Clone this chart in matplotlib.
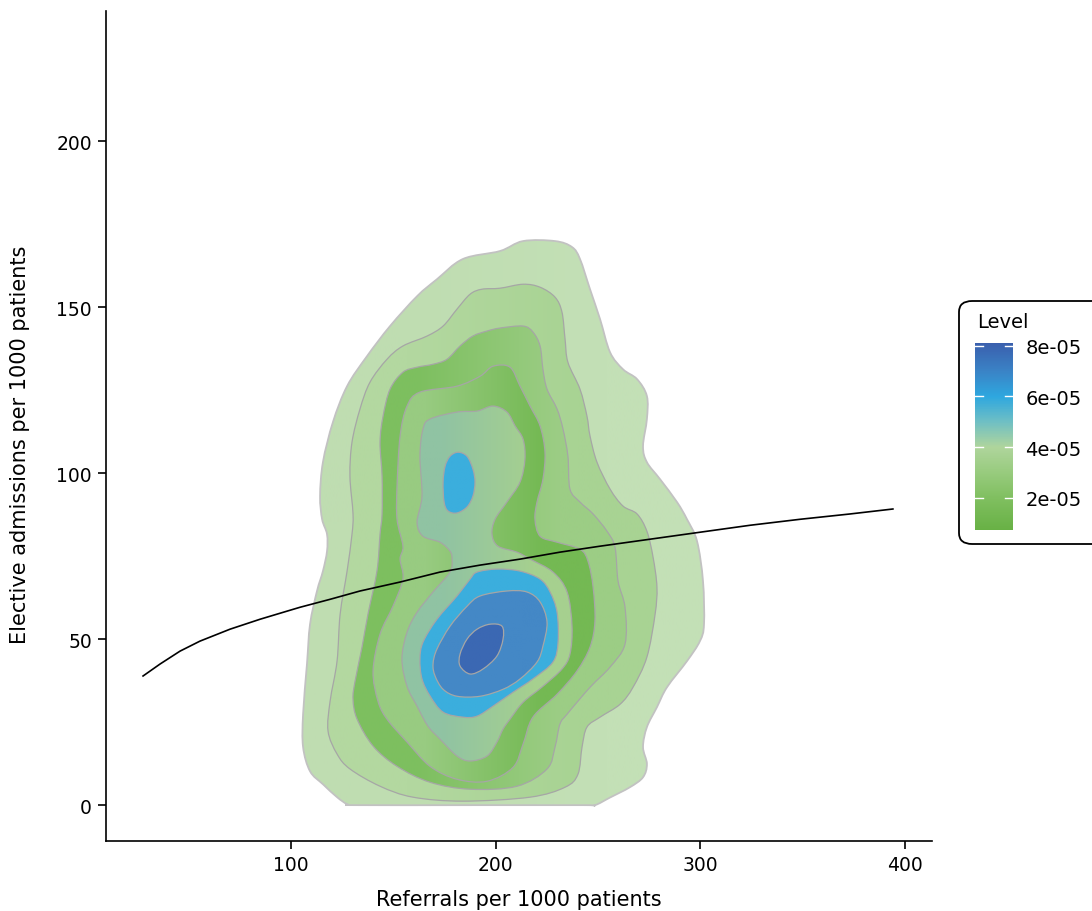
import numpy as np
import matplotlib
matplotlib.use('Agg')
import matplotlib.pyplot as plt
from matplotlib.patches import PathPatch, FancyBboxPatch
from matplotlib.path import Path
from matplotlib.colors import LinearSegmentedColormap, Normalize, to_rgb
from matplotlib.cm import ScalarMappable

# density levels (one outline per level, 6 has two pieces)
levels = [1e-05, 2e-05, 3e-05, 4e-05, 5e-05, 6e-05, 7e-05, 8e-05]

contour_1 = [(213.4, 169.9), (229.0, 169.9), (237.3, 168.1), (241.2, 164.5), (246.1, 155.4),
             (251.0, 146.4), (255.9, 136.4), (262.2, 131.3), (269.1, 128.3), (273.9, 123.2),
             (273.9, 116.3), (272.0, 108.1), (273.9, 103.3), (280.3, 98.2), (288.6, 91.3),
             (293.5, 86.1), (298.4, 79.5), (301.3, 67.5), (301.8, 54.5), (299.8, 49.4),
             (293.5, 43.4), (283.7, 35.5), (278.8, 29.5), (273.9, 23.5), (272.0, 17.5),
             (273.9, 12.4), (272.0, 8.4), (265.6, 5.4), (255.9, 2.3), (248.5, 0.0),
             (243.0, 0.0), (190.0, 0.0), (132.0, 0.0), (127.5, 0.3), (122.5, 2.4),
             (115.6, 6.3), (109.3, 10.2), (105.9, 17.5),
             (105.9, 27.4), (107.8, 42.5), (109.3, 54.5), (112.7, 64.5), (115.6, 70.5),
             (117.6, 76.5), (117.6, 81.6), (115.2, 86.1), (114.2, 93.1), (115.6, 103.3),
             (120.5, 115.4), (127.4, 126.2), (137.1, 135.2), (148.4, 144.3), (161.6, 153.3),
             (171.3, 158.4), (184.0, 164.5), (202.1, 166.9)]

contour_2 = [(202.1, 155.7), (213.4, 156.9), (221.7, 156.0), (229.0, 153.0), (232.4, 148.5),
             (233.9, 140.4), (235.3, 133.4), (241.2, 125.3), (244.6, 117.2), (246.1, 111.2),
             (249.5, 103.3), (255.9, 95.2), (262.2, 90.1), (269.1, 87.7), (273.9, 82.5),
             (276.9, 74.7), (278.8, 65.7), (277.9, 57.5), (273.9, 44.6), (267.1, 35.5),
             (260.8, 30.4), (251.0, 26.5), (244.6, 23.5), (242.2, 17.5), (240.2, 9.3),
             (233.9, 5.4), (216.8, 2.4), (184.0, 1.2), (159.6, 2.4), (143.5, 5.7),
             (128.8, 10.9), (122.5, 15.4), (118.1, 22.3), (119.1, 31.3), (122.5, 43.4),
             (124.0, 57.5), (127.4, 70.5), (129.8, 81.6), (130.3, 87.7), (128.8, 99.1),
             (129.8, 109.3), (133.7, 119.3), (138.6, 127.4), (146.9, 134.3), (154.7, 138.3),
             (166.5, 141.3), (174.3, 144.3), (181.1, 149.4), (187.5, 153.9), (193.3, 155.4)]

contour_3 = [(202.1, 143.7), (213.4, 144.3), (218.2, 142.5), (221.7, 138.3), (223.1, 131.3),
             (225.1, 125.3), (230.0, 119.3), (232.9, 113.3), (235.3, 105.1), (236.3, 95.2),
             (241.2, 91.3), (247.6, 87.7), (254.4, 82.5), (258.3, 77.7), (259.8, 67.5),
             (263.2, 59.6), (263.2, 48.5), (255.9, 41.6), (246.1, 35.5), (234.9, 27.4),
             (231.4, 24.4), (229.0, 17.5), (225.1, 10.9), (210.4, 5.7), (187.5, 4.8),
             (167.9, 6.9), (151.8, 11.7), (140.1, 17.8), (132.3, 25.9), (130.3, 31.9),
             (131.3, 37.3), (134.7, 47.6), (137.6, 57.5), (142.0, 70.5), (143.5, 81.6),
             (144.5, 87.7), (144.5, 99.1), (143.5, 109.3), (145.0, 117.2), (148.4, 125.3),
             (154.7, 130.4), (161.6, 131.9), (169.4, 132.8), (176.2, 134.3), (182.6, 138.3),
             (188.9, 141.3), (195.8, 142.8)]

contour_4 = [(198.7, 132.2), (207.0, 131.9), (211.9, 126.2), (216.8, 120.2), (221.7, 114.2),
             (224.1, 106.3), (223.1, 98.2), (220.2, 91.3), (219.2, 86.1), (221.7, 81.0),
             (230.0, 79.2), (241.2, 77.1), (245.1, 73.5), (247.6, 65.7), (248.5, 55.4),
             (246.1, 47.6), (239.7, 40.4), (230.0, 33.4), (218.2, 26.5), (213.4, 18.4),
             (208.5, 11.4), (195.8, 7.2), (181.1, 7.8), (167.9, 11.7), (156.7, 19.0),
             (146.9, 25.9), (142.5, 31.3), (140.1, 40.4), (143.5, 51.5), (149.8, 59.9),
             (154.7, 68.1), (153.3, 74.1), (154.7, 78.0), (151.8, 86.1), (151.8, 96.1),
             (153.3, 111.2), (156.7, 120.2), (163.0, 124.4), (181.1, 126.2), (192.4, 129.2)]

contour_5 = [(164.5, 113.3), (168.0, 116.3), (181.1, 118.4), (190.9, 118.7), (198.7, 120.2),
             (205.5, 118.4), (209.5, 114.2), (213.4, 110.2), (214.3, 104.2), (211.9, 97.3),
             (205.5, 91.3), (199.7, 86.1), (198.2, 81.6), (201.1, 78.0), (210.4, 76.2),
             (216.8, 74.1), (228.0, 70.2), (234.9, 64.2), (237.3, 53.9), (236.3, 45.5),
             (232.4, 41.0), (223.1, 35.8), (213.4, 31.0), (207.0, 25.9), (203.6, 22.9),
             (200.6, 19.0), (195.8, 14.8), (187.5, 13.3), (181.1, 14.8), (172.8, 19.9),
             (166.9, 23.8), (161.6, 29.8), (156.7, 35.8), (154.2, 44.0), (156.7, 52.1),
             (161.6, 58.1), (169.4, 64.2), (177.7, 70.2), (178.7, 74.1), (177.7, 76.5),
             (172.8, 79.2), (164.5, 81.0), (161.6, 85.2), (164.0, 93.1), (163.0, 105.1)]

contour_6a = [(181.6, 106.3), (186.0, 105.1), (188.9, 101.2), (189.9, 97.3), (188.9, 93.1),
              (186.0, 89.8), (181.1, 88.0), (176.7, 88.6), (174.8, 91.3), (174.3, 97.3),
              (175.3, 102.1), (177.7, 105.1)]

contour_6b = [(190.9, 70.2), (200.6, 71.1), (211.9, 70.5), (221.7, 68.1), (226.6, 64.2),
              (230.0, 58.1), (230.5, 49.1), (228.0, 43.1), (218.2, 38.0), (208.5, 34.0),
              (198.7, 29.8), (190.9, 26.8), (184.0, 26.5), (174.3, 28.0), (168.0, 32.8),
              (164.0, 38.0), (163.0, 44.0), (164.5, 49.1), (171.3, 56.0), (181.1, 63.0),
              (187.5, 68.1)]

contour_7 = [(192.4, 63.0), (205.5, 64.5), (215.3, 64.2), (221.7, 61.2), (225.1, 55.1),
             (223.1, 47.9), (220.2, 43.1), (211.9, 38.0), (203.6, 34.9), (192.4, 32.8),
             (181.1, 32.8), (174.3, 34.9), (170.4, 38.9), (169.4, 42.5), (171.3, 47.0),
             (177.7, 53.9), (186.0, 59.9)]

contour_8 = [(190.9, 53.0), (197.2, 54.5), (203.1, 53.9), (203.6, 50.0), (200.6, 44.9),
             (193.8, 41.0), (187.5, 39.5), (182.6, 41.9), (182.6, 45.5), (186.0, 50.0)]

# smoothed trend of admissions on referrals
fit_x = [27.7, 36.0, 45.8, 55.5, 70.2, 84.9, 99.5, 104.4, 119.1, 133.7, 153.3, 172.8,
         192.4, 211.9, 231.4, 251.0, 275.4, 299.8, 324.3, 348.7, 373.1, 394.1]
fit_y = [38.9, 42.5, 46.4, 49.4, 53.0, 56.0, 58.7, 59.6, 62.0, 64.5, 67.2, 70.2,
         72.3, 74.1, 76.2, 78.0, 80.1, 82.2, 84.3, 86.1, 87.7, 89.2]

x_ticks = [100, 200, 300, 400]
y_ticks = [0, 50, 100, 150, 200]
level_ticks = [2e-05, 4e-05, 6e-05, 8e-05]
level_labels = ['2e-05', '4e-05', '6e-05', '8e-05']

outlines = [(0, contour_1), (1, contour_2), (2, contour_3), (3, contour_4), (4, contour_5),
            (5, contour_6a), (5, contour_6b), (6, contour_7), (7, contour_8)]

# fill colour at left / right side of each level region
fill_cols = [('#bfddb1', '#c3e0b6'),
             ('#b3d8a0', '#a8d393'),
             ('#7dbf5f', '#9ccd85'),
             ('#98cb81', '#74b953'),
             ('#90c3a3', '#a6d08f'),
             ('#3baedd', '#3baedd'),
             ('#4488c6', '#4488c6'),
             ('#3b68b3', '#3b68b3')]


def smooth_path(poly):
    # closed curve through the outline points (Catmull-Rom as cubic Bezier)
    p = np.array(poly)
    n = len(p)
    verts = [p[0]]
    codes = [Path.MOVETO]
    for i in range(n):
        p0, p1, p2, p3 = p[i - 1], p[i], p[(i + 1) % n], p[(i + 2) % n]
        verts += [p1 + (p2 - p0) / 6, p2 - (p3 - p1) / 6, p2]
        codes += [Path.CURVE4] * 3
    verts.append(p[0])
    codes.append(Path.CLOSEPOLY)
    return Path(np.array(verts), codes)


plt.rcParams['font.family'] = ['DejaVu Sans']
fig = plt.figure(figsize=(10.92, 9.12), dpi=100)
ax = fig.add_axes([106 / 1092, 1 - 842 / 912, 826 / 1092, 830 / 912])

for i, (lev, poly) in enumerate(outlines):
    pts = np.array(poly)
    clip = PathPatch(smooth_path(poly), facecolor='none', edgecolor='none')
    ax.add_patch(clip)
    cl, cr = fill_cols[lev]
    grad = np.array([[to_rgb(cl), to_rgb(cr)]])
    im = ax.imshow(grad, extent=[pts[:, 0].min() - 3, pts[:, 0].max() + 3,
                                 pts[:, 1].min() - 3, pts[:, 1].max() + 3],
                   aspect='auto', interpolation='bilinear', origin='lower', zorder=2 + i)
    im.set_clip_path(clip)

for lev, poly in outlines:
    if lev == 0:
        ax.add_patch(PathPatch(smooth_path(poly), fill=False, edgecolor='#c2c2c2', lw=1.3, zorder=20))
    else:
        ax.add_patch(PathPatch(smooth_path(poly), fill=False, edgecolor='#a6a6a6', lw=0.9, zorder=20))

ax.plot(fit_x, fit_y, color='black', lw=1.2, zorder=30)

ax.set_xlim(9.6, 413.2)
ax.set_ylim(-10.8, 239.2)
ax.set_xticks(x_ticks)
ax.set_yticks(y_ticks)
ax.spines['top'].set_visible(False)
ax.spines['right'].set_visible(False)
ax.spines['left'].set_linewidth(1.2)
ax.spines['bottom'].set_linewidth(1.2)
ax.tick_params(length=6, width=1.2, labelsize=13.5, pad=4)

fig.text(519 / 1092, 1 - 900 / 912, 'Referrals per 1000 patients', ha='center', va='center',
         fontsize=15)
fig.text(20 / 1092, 1 - 445 / 912, 'Elective admissions per 1000 patients', ha='center', va='center',
         rotation=90, fontsize=15)

# legend box
box = FancyBboxPatch((959 / 1092, 1 - 545 / 912), 0.2, 243 / 912,
                     boxstyle='round,pad=0,rounding_size=0.012', transform=fig.transFigure,
                     facecolor='white', edgecolor='black', lw=1.3, zorder=-1)
fig.add_artist(box)
fig.text(977 / 1092, 1 - 322 / 912, 'Level', fontsize=14, va='center', ha='left')

vmin, vmax = 0.74e-05, 8.1e-05
stops = [(0.74e-05, '#68b145'), (2e-05, '#80bf60'), (3e-05, '#98cb7e'), (4e-05, '#afd59c'),
         (5e-05, '#6fbfc4'), (6e-05, '#2ea7df'), (7e-05, '#3a83c6'), (8.1e-05, '#3a5fad')]
cmap = LinearSegmentedColormap.from_list('level', [((v - vmin) / (vmax - vmin), c) for v, c in stops])
cax = fig.add_axes([975 / 1092, 1 - 531 / 912, 38 / 1092, 187 / 912])
cb = fig.colorbar(ScalarMappable(Normalize(vmin, vmax), cmap), cax=cax, ticks=level_ticks)
cb.outline.set_visible(False)
cax.set_yticklabels(level_labels)
cax.tick_params(length=0, labelsize=14, pad=9)
for t in level_ticks:
    cax.plot([0, 0.2], [t, t], color='white', lw=1.0)
    cax.plot([0.8, 1], [t, t], color='white', lw=1.0)

fig.savefig('out.png', dpi=100)
